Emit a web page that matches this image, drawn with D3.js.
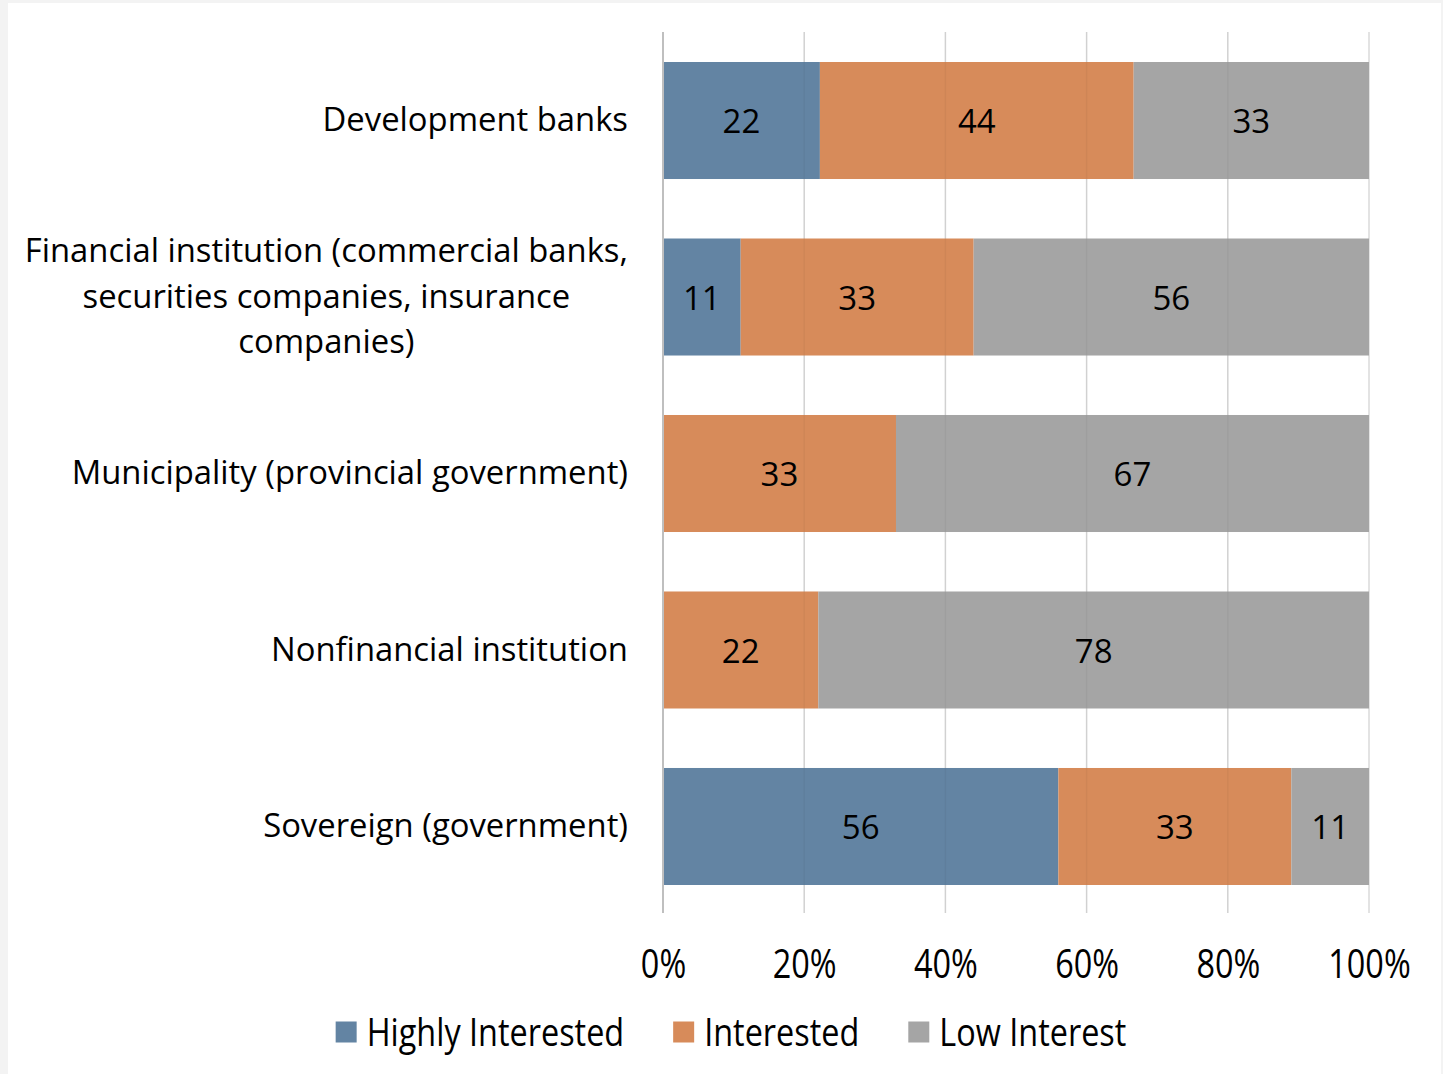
<!DOCTYPE html>
<html>
<head>
<meta charset="utf-8">
<script src="https://cdn.jsdelivr.net/npm/d3@7"></script>
<style>
  html, body { margin: 0; padding: 0; background: #f3f3f3; }
  svg { display: block; }
  text { font-family: "Open Sans", sans-serif; fill: #000; }
</style>
</head>
<body>
<svg id="chart" width="1443" height="1074"></svg>
<script>
// Survey responses by issuer type (percent of respondents)
const categories = [
  "Development banks",
  "Financial institution (commercial banks, securities companies, insurance companies)",
  "Municipality (provincial government)",
  "Nonfinancial institution",
  "Sovereign (government)"
];
const seriesNames = ["Highly Interested", "Interested", "Low Interest"];
const highlyInterested = [22, 11, 0, 0, 56];
const interested       = [44, 33, 33, 22, 33];
const lowInterest      = [33, 56, 67, 78, 11];
const tickValues = [0, 0.2, 0.4, 0.6, 0.8, 1.0];
const colors = ["#6384a3", "#d78b5a", "#a5a5a5"];

const svg = d3.select("#chart");
const W = 1443, H = 1074;

// white card
svg.append("rect").attr("x", 8).attr("y", 3).attr("width", 1433).attr("height", H - 3).attr("fill", "#fff");

const margin = { left: 663, right: 1443 - 1369, top: 32, bottom: 1074 - 913 };
const plotBottom = H - margin.bottom;
const x = d3.scaleLinear().domain([0, 1]).range([margin.left, W - margin.right]);
const y = d3.scaleBand().domain(categories).range([margin.top, plotBottom + 2])
  .paddingInner(0.337).paddingOuter(0.17);
const color = d3.scaleOrdinal().domain(seriesNames).range(colors);

// rows normalised to 100% per category
const rows = categories.map((c, i) => ({
  category: c,
  "Highly Interested": highlyInterested[i],
  "Interested": interested[i],
  "Low Interest": lowInterest[i]
}));
const stacked = d3.stack().keys(seriesNames).offset(d3.stackOffsetExpand)(rows);

// gridlines beneath the bars
svg.append("g").selectAll("line").data(tickValues).join("line")
  .attr("x1", d => x(d)).attr("x2", d => x(d))
  .attr("y1", margin.top).attr("y2", plotBottom)
  .attr("stroke", "#dadada").attr("stroke-width", 1.5);

// stacked bars
const layers = svg.append("g").selectAll("g").data(stacked).join("g")
  .attr("fill", d => color(d.key));
layers.selectAll("rect").data(d => d.map(v => Object.assign(v, { key: d.key }))).join("rect")
  .attr("x", d => x(d[0]))
  .attr("width", d => x(d[1]) - x(d[0]))
  .attr("y", d => y(d.data.category))
  .attr("height", y.bandwidth());

// faint gridlines showing through the bars
svg.append("g").selectAll("line").data(tickValues.slice(1, -1)).join("line")
  .attr("x1", d => x(d)).attr("x2", d => x(d))
  .attr("y1", margin.top).attr("y2", plotBottom)
  .attr("stroke", "#000").attr("stroke-opacity", 0.04).attr("stroke-width", 1.5);

// value labels
const labelsG = svg.append("g").attr("font-size", 33).attr("text-anchor", "middle");
stacked.forEach(layer => {
  layer.forEach(d => {
    const v = d.data[layer.key];
    if (!v) return;
    labelsG.append("text")
      .attr("x", (x(d[0]) + x(d[1])) / 2)
      .attr("y", y(d.data.category) + y.bandwidth() / 2 + 1)
      .attr("dy", "0.36em")
      .text(v);
  });
});

// category axis line
svg.append("line")
  .attr("x1", x(0)).attr("x2", x(0))
  .attr("y1", margin.top).attr("y2", plotBottom)
  .attr("stroke", "#bfbfbf").attr("stroke-width", 2);

// category labels: wrapped, block right-aligned, lines centred within the block
const catG = svg.append("g").attr("font-size", 32.8);
const labelRight = x(0) - 35;
const maxLabelWidth = 615;
categories.forEach(c => {
  const words = c.split(" ");
  const probe = catG.append("text");
  const lines = [];
  let line = [];
  words.forEach(w => {
    line.push(w);
    probe.text(line.join(" "));
    if (probe.node().getComputedTextLength() > maxLabelWidth && line.length > 1) {
      line.pop();
      lines.push(line.join(" "));
      line = [w];
    }
  });
  lines.push(line.join(" "));
  const widths = lines.map(l => { probe.text(l); return probe.node().getComputedTextLength(); });
  probe.remove();
  const blockW = d3.max(widths);
  const cx = labelRight - blockW / 2;
  const lh = 45.5;
  const cy = y(c) + y.bandwidth() / 2 - 1;
  lines.forEach((l, i) => {
    catG.append("text")
      .attr("x", cx)
      .attr("y", cy + (i - (lines.length - 1) / 2) * lh)
      .attr("dy", "0.36em")
      .attr("text-anchor", "middle")
      .text(l);
  });
});

// value axis
const xAxis = d3.axisBottom(x).tickValues(tickValues).tickFormat(d3.format(".0%")).tickSize(0).tickPadding(0);
const axG = svg.append("g").attr("transform", `translate(0, ${plotBottom + 50})`).call(xAxis);
axG.select(".domain").remove();
axG.selectAll(".tick text")
  .attr("x", 0).attr("y", 0).attr("dy", "0.36em")
  .attr("font-size", 40.5)
  .attr("font-family", "'Open Sans', sans-serif")
  .attr("fill", "#000")
  .attr("transform", "scale(0.8,1)");

// legend, centred on the card
const legend = svg.append("g");
const sq = 21, gap = 10, spacing = 49, sx = 0.84;
let cursor = 0;
seriesNames.forEach(name => {
  const g = legend.append("g").attr("transform", `translate(${cursor},0)`);
  g.append("rect").attr("x", 0).attr("y", -sq / 2).attr("width", sq).attr("height", sq).attr("fill", color(name));
  const t = g.append("text").attr("x", 0).attr("dy", "0.36em").attr("font-size", 38.6)
    .attr("transform", `translate(${sq + gap},0) scale(${sx},1)`).text(name);
  const tw = t.node().getComputedTextLength() * sx;
  cursor += sq + gap + tw + spacing;
});
const legendWidth = cursor - spacing;
legend.attr("transform", `translate(${731 - legendWidth / 2}, 1032)`);
</script>
</body>
</html>
